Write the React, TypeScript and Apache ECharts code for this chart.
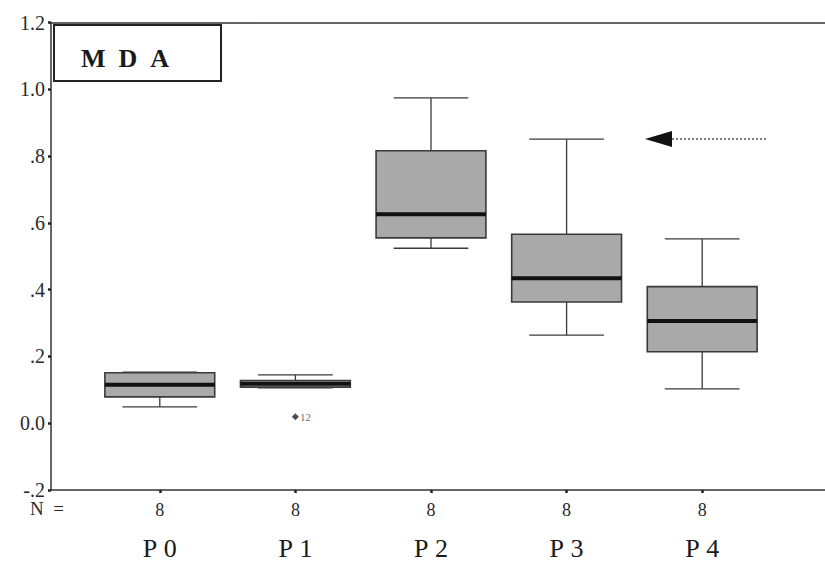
import React, { useEffect, useRef } from "react";
import * as echarts from "echarts";

const categories = ["P0", "P1", "P2", "P3", "P4"];
const groupSizes = [8, 8, 8, 8, 8];
// [min, Q1, median, Q3, max]
const boxStats = [
  [0.049, 0.079, 0.115, 0.151, 0.153],
  [0.106, 0.108, 0.118, 0.128, 0.145],
  [0.524, 0.555, 0.626, 0.816, 0.974],
  [0.264, 0.363, 0.434, 0.566, 0.851],
  [0.103, 0.214, 0.306, 0.409, 0.552],
];
const outliers = [{ cat: 1, value: 0.019, label: "12" }];
const yTickLabels = ["-.2", "0.0", ".2", ".4", ".6", ".8", "1.0", "1.2"];
const yMin = -0.2;
const yMax = 1.2;
const yStep = 0.2;

const SERIF = '"Liberation Serif", "DejaVu Serif", "Times New Roman", serif';

export default function App() {
  const ref = useRef<HTMLDivElement>(null);
  useEffect(() => {
    if (!ref.current) return;
    const chart = echarts.init(ref.current, null, { renderer: "svg" });
    const boxData = boxStats.map((s, i) => [i, ...s]);
    const frameLine = { show: true, onZero: false, lineStyle: { color: "#333", width: 1.5 } };
    const option: any = {
      animation: false,
      backgroundColor: "#ffffff",
      grid: [
        { left: 51, right: 0, top: 22.5, bottom: 77 },
        { left: 92, width: 678, top: 22.5, bottom: 77 },
      ],
      xAxis: [
        {
          gridIndex: 0,
          type: "value",
          position: "bottom",
          min: 0,
          max: 1,
          axisLine: frameLine,
          axisTick: { show: false },
          axisLabel: { show: false },
          splitLine: { show: false },
        },
        {
          gridIndex: 0,
          type: "value",
          position: "top",
          min: 0,
          max: 1,
          axisLine: frameLine,
          axisTick: { show: false },
          axisLabel: { show: false },
          splitLine: { show: false },
        },
        {
          gridIndex: 1,
          type: "category",
          position: "bottom",
          data: categories,
          boundaryGap: true,
          axisLine: { show: false, onZero: false },
          axisTick: {
            show: true,
            alignWithLabel: true,
            length: 3,
            lineStyle: { color: "#222", width: 2.5 },
          },
          axisLabel: {
            margin: 10,
            interval: 0,
            formatter: (v: string, i: number) =>
              `{n|${groupSizes[i]}}\n{p|${v.replace(/^P/, "P\u00a0")}}`,
            rich: {
              n: { fontFamily: SERIF, fontSize: 18, color: "#2a2a2a", lineHeight: 20, align: "center" },
              p: { fontFamily: SERIF, fontSize: 26, color: "#1a1a1a", lineHeight: 56, align: "center" },
            },
          },
          splitLine: { show: false },
        },
      ],
      yAxis: [
        {
          gridIndex: 0,
          type: "value",
          min: yMin,
          max: yMax,
          interval: yStep,
          axisLine: frameLine,
          axisTick: { show: true, length: 3, lineStyle: { color: "#222", width: 2.5 } },
          axisLabel: {
            margin: 6,
            fontFamily: SERIF,
            fontSize: 20,
            color: "#2a2a2a",
            formatter: (v: number) => yTickLabels[Math.round((v - yMin) / yStep)] ?? "",
          },
          splitLine: { show: false },
        },
        {
          gridIndex: 1,
          type: "value",
          min: yMin,
          max: yMax,
          interval: yStep,
          show: false,
        },
      ],
      series: [
        {
          type: "custom",
          xAxisIndex: 2,
          yAxisIndex: 1,
          data: boxData,
          encode: { x: 0, y: [1, 2, 3, 4, 5] },
          renderItem: (params: any, api: any) => {
            const c = api.value(0);
            const mn = api.value(1);
            const q1 = api.value(2);
            const md = api.value(3);
            const q3 = api.value(4);
            const mx = api.value(5);
            const band = api.size([1, 0])[0];
            const bw = band * 0.81;
            const cw = bw * 0.68;
            const pMin = api.coord([c, mn]);
            const pQ1 = api.coord([c, q1]);
            const pMd = api.coord([c, md]);
            const pQ3 = api.coord([c, q3]);
            const pMax = api.coord([c, mx]);
            const cx = pMd[0];
            const lineStyle = { stroke: "#3a3a3a", lineWidth: 1.3 };
            return {
              type: "group",
              children: [
                { type: "line", shape: { x1: cx, y1: pQ3[1], x2: cx, y2: pMax[1] }, style: lineStyle },
                { type: "line", shape: { x1: cx, y1: pQ1[1], x2: cx, y2: pMin[1] }, style: lineStyle },
                { type: "line", shape: { x1: cx - cw / 2, y1: pMax[1], x2: cx + cw / 2, y2: pMax[1] }, style: lineStyle },
                { type: "line", shape: { x1: cx - cw / 2, y1: pMin[1], x2: cx + cw / 2, y2: pMin[1] }, style: lineStyle },
                {
                  type: "rect",
                  shape: { x: cx - bw / 2, y: pQ3[1], width: bw, height: pQ1[1] - pQ3[1] },
                  style: { fill: "#a9a9a9", stroke: "#3a3a3a", lineWidth: 1.6 },
                },
                {
                  type: "line",
                  shape: { x1: cx - bw / 2, y1: pMd[1], x2: cx + bw / 2, y2: pMd[1] },
                  style: { stroke: "#111", lineWidth: 4 },
                },
              ],
            };
          },
          z: 3,
        },
        {
          type: "scatter",
          xAxisIndex: 2,
          yAxisIndex: 1,
          data: outliers.map((o) => [o.cat, o.value]),
          symbol: "diamond",
          symbolSize: 7,
          itemStyle: { color: "#222" },
          label: {
            show: true,
            position: "right",
            distance: 1,
            fontFamily: SERIF,
            fontSize: 11,
            color: "#444",
            formatter: (p: any) => outliers[p.dataIndex].label,
          },
          z: 4,
        },
      ],
      graphic: [
        {
          type: "text",
          left: 30,
          top: 499,
          style: { text: "N\u00a0\u00a0=", font: `19px ${SERIF}`, fill: "#2a2a2a" },
        },
        {
          type: "group",
          left: 53,
          top: 24,
          children: [
            {
              type: "rect",
              shape: { x: 0, y: 0, width: 167, height: 56 },
              style: { fill: "#fff", stroke: "#222", lineWidth: 2 },
            },
            {
              type: "text",
              x: 27,
              y: 33,
              style: {
                text: "M\u00a0\u00a0D\u00a0\u00a0A",
                font: `bold 26px ${SERIF}`,
                fill: "#1a1a1a",
                verticalAlign: "middle",
              },
            },
          ],
        },
        {
          type: "line",
          shape: { x1: 672, y1: 139, x2: 766, y2: 139 },
          style: { stroke: "#555", lineWidth: 1.5, lineDash: [2, 2] },
        },
        {
          type: "polygon",
          shape: { points: [[645, 139], [672, 131], [672, 147]] },
          style: { fill: "#111" },
        },
      ],
    };
    chart.setOption(option);
    return () => chart.dispose();
  }, []);
  return (
    <div
      ref={ref}
      style={{ position: "fixed", left: 0, top: 0, width: 825, height: 567 }}
    />
  );
}
